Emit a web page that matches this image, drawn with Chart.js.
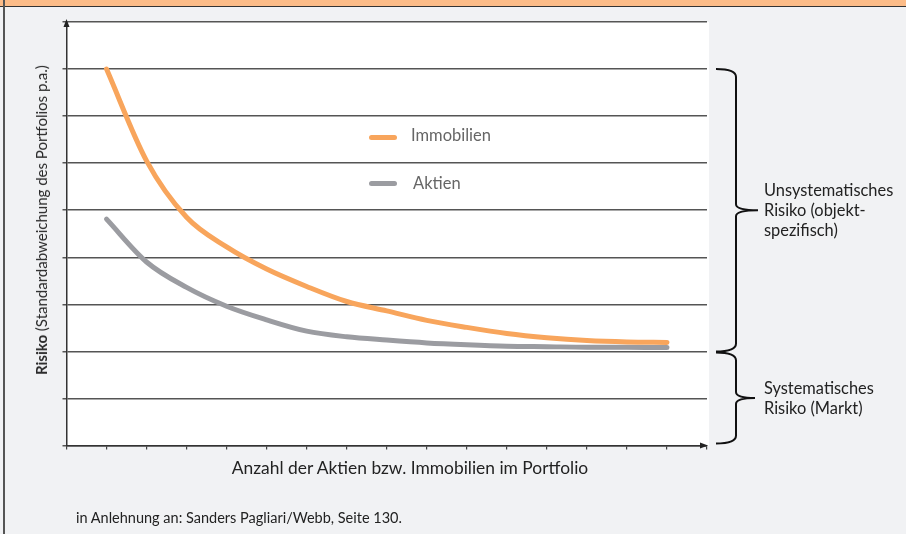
<!DOCTYPE html>
<html>
<head>
<meta charset="utf-8">
<script src="https://cdn.jsdelivr.net/npm/chart.js@4/dist/chart.umd.min.js"></script>
<style>
  body { margin: 0; background: #f1f2f4; font-family: Lato, "Open Sans", sans-serif; color: #222; }
  #wrap { position: relative; width: 906px; height: 534px; overflow: hidden; }
  #head { position: absolute; left: 0; top: 0; width: 906px; height: 6px; background: #fcbc88; border-bottom: 1.5px solid #333; }
  #edge { position: absolute; left: 3px; top: 0; width: 1.5px; height: 534px; background: #555; }
  canvas { position: absolute; left: 0; top: 0; }
  .txt { position: absolute; white-space: nowrap; font-weight: 400; }
  #ytitle { left: 41px; top: 220px; font-size: 15px; color: #2a2a2a; transform: translate(-50%, -50%) rotate(-90deg); }
  #ytitle b { font-weight: 700; }
  #xtitle { left: 410px; top: 467px; font-size: 17.4px; transform: translate(-50%, -50%); }
  #source { left: 76px; top: 517px; font-size: 14.5px; transform: translateY(-50%); }
  .side { left: 764px; font-size: 16.4px; line-height: 20px; }
  .leg { font-size: 16.5px; color: #666; transform: translateY(-50%); }
  .sample { position: absolute; width: 28px; height: 5px; border-radius: 3px; }
</style>
</head>
<body>
<div id="wrap">
  <canvas id="chart" width="906" height="534"></canvas>
  <div id="head"></div>
  <div id="edge"></div>
  <div class="txt" id="ytitle"><b>Risiko</b> (Standardabweichung des Portfolios p.a.)</div>
  <div class="txt" id="xtitle">Anzahl der Aktien bzw. Immobilien im Portfolio</div>
  <div class="txt" id="source">in Anlehnung an: Sanders Pagliari/Webb, Seite 130.</div>
  <div class="txt side" style="top:180px">Unsystematisches<br>Risiko (objekt-<br>spezifisch)</div>
  <div class="txt side" style="top:378px">Systematisches<br>Risiko (Markt)</div>
  <div class="sample" style="left:369px; top:135px; background:#f8a55c"></div>
  <div class="txt leg" style="left:411px; top:135px">Immobilien</div>
  <div class="sample" style="left:369px; top:181px; background:#9b9ca1"></div>
  <div class="txt leg" style="left:413px; top:183px">Aktien</div>
</div>
<script>
const xValues = [1, 2, 3, 4, 5, 6, 7, 8, 9, 10, 11, 12, 13, 14, 15];
const immobilien = [8.0, 6.05, 4.85, 4.22, 3.75, 3.38, 3.06, 2.86, 2.66, 2.51, 2.38, 2.29, 2.23, 2.2, 2.19];
const aktien = [4.81, 3.9, 3.36, 2.96, 2.67, 2.43, 2.31, 2.24, 2.18, 2.14, 2.11, 2.1, 2.09, 2.09, 2.08];
const seriesNames = ['Immobilien', 'Aktien'];

const toPoints = (vals) => vals.map((v, i) => ({x: xValues[i], y: v}));

const brace = (ctx, x, y1, y2, tipX) => {
    const xl = x - 20;
    const ym = (y1 + y2) / 2;
    ctx.beginPath();
    ctx.moveTo(xl, y1);
    ctx.quadraticCurveTo(x, y1, x, y1 + 8);
    ctx.lineTo(x, ym - 6);
    ctx.quadraticCurveTo(x, ym, tipX, ym);
    ctx.quadraticCurveTo(x, ym, x, ym + 6);
    ctx.lineTo(x, y2 - 8);
    ctx.quadraticCurveTo(x, y2, xl, y2);
    ctx.stroke();
};

const decor = {
    id: 'decor',
    beforeDraw(chart) {
        const {ctx, chartArea: a} = chart;
        ctx.save();
        ctx.fillStyle = '#ffffff';
        ctx.fillRect(a.left, a.top, a.right - a.left + 2, a.bottom - a.top);
        ctx.restore();
    },
    afterDraw(chart) {
        const {ctx, chartArea: a, scales} = chart;
        ctx.save();
        ctx.fillStyle = '#222';
        // y arrow
        ctx.beginPath();
        ctx.moveTo(a.left, a.top - 3);
        ctx.lineTo(a.left - 3, a.top + 5);
        ctx.lineTo(a.left + 3, a.top + 5);
        ctx.fill();
        // x arrow
        ctx.beginPath();
        ctx.moveTo(a.right + 1, a.bottom);
        ctx.lineTo(a.right - 7, a.bottom - 3);
        ctx.lineTo(a.right - 7, a.bottom + 3);
        ctx.fill();
        // braces
        ctx.strokeStyle = '#111';
        ctx.lineWidth = 2;
        const y = scales.y;
        brace(ctx, 736, y.getPixelForValue(8), y.getPixelForValue(2), 758);
        brace(ctx, 736, y.getPixelForValue(2) + 1, y.getPixelForValue(0) - 2, 755);
        ctx.restore();
    }
};

new Chart(document.getElementById('chart').getContext('2d'), {
    type: 'line',
    data: {
        datasets: [{
            label: seriesNames[0],
            data: toPoints(immobilien),
            borderColor: '#f8a55c',
            borderWidth: 5,
            borderCapStyle: 'round',
            pointRadius: 0,
            cubicInterpolationMode: 'monotone'
        }, {
            label: seriesNames[1],
            data: toPoints(aktien),
            borderColor: '#9b9ca1',
            borderWidth: 5,
            borderCapStyle: 'round',
            pointRadius: 0,
            cubicInterpolationMode: 'monotone'
        }]
    },
    options: {
        responsive: false,
        animation: false,
        layout: {padding: {left: 62.5, top: 22, right: 199, bottom: 84.5}},
        plugins: {legend: {display: false}, tooltip: {enabled: false}},
        scales: {
            x: {
                type: 'linear', min: 0, max: 16,
                ticks: {display: false, stepSize: 1},
                grid: {drawOnChartArea: false, tickLength: 4, color: '#444', lineWidth: 1.2},
                border: {color: '#333', width: 1.5}
            },
            y: {
                min: 0, max: 9,
                ticks: {display: false, stepSize: 1},
                grid: {tickLength: 4, color: '#555', lineWidth: 1.5},
                border: {color: '#333', width: 1.5}
            }
        }
    },
    plugins: [decor]
});
</script>
</body>
</html>
